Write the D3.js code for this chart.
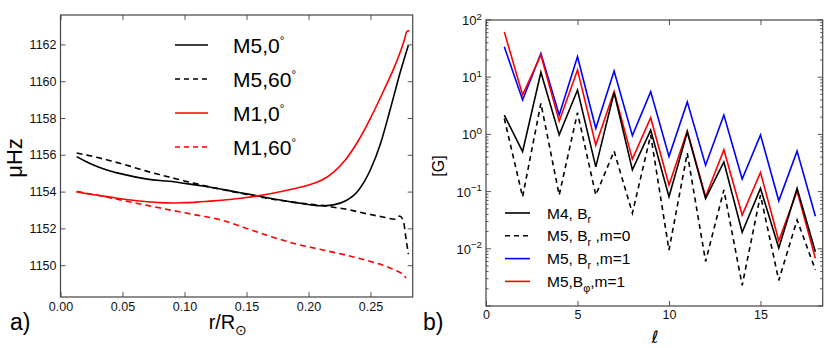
<!DOCTYPE html>
<html lang="en">
<head>
<meta charset="UTF-8">
<title>Frequency and field panels</title>
<script src="https://cdn.jsdelivr.net/npm/d3@7"></script>
<style>
  body { margin: 0; background: #fff; }
  svg { display: block; font-family: "Liberation Sans", Arial, sans-serif; }
  .tick text { font-family: "Liberation Sans", Arial, sans-serif; }
</style>
</head>
<body>
<div id="container"></div>
<script>
// ---- panel a: frequency vs r/Rsun ([r, muHz] pairs) ----
const m5_0 = [[0.013,1155.9],[0.02,1155.65],[0.03,1155.35],[0.04,1155.12],[0.05,1154.95],[0.06,1154.8],
  [0.07,1154.68],[0.08,1154.6],[0.09,1154.55],[0.10,1154.45],[0.11,1154.35],[0.12,1154.25],[0.13,1154.13],
  [0.14,1154.0],[0.15,1153.88],[0.16,1153.75],[0.17,1153.62],[0.18,1153.5],[0.19,1153.4],[0.20,1153.3],
  [0.21,1153.23],[0.22,1153.28],[0.23,1153.5],[0.24,1154.05],[0.25,1155.2],[0.258,1156.6],
  [0.266,1158.5],[0.274,1160.5],[0.2805,1161.96]];
const m5_60 = [[0.013,1156.1],[0.02,1156.0],[0.03,1155.85],[0.04,1155.68],[0.05,1155.5],[0.06,1155.3],
  [0.07,1155.1],[0.08,1154.92],[0.09,1154.75],[0.10,1154.58],[0.11,1154.42],[0.12,1154.26],[0.13,1154.12],
  [0.14,1153.98],[0.15,1153.85],[0.16,1153.72],[0.17,1153.6],[0.18,1153.5],[0.19,1153.4],[0.20,1153.32],
  [0.21,1153.25],[0.22,1153.15],[0.23,1153.05],[0.24,1152.9],[0.25,1152.75],[0.26,1152.62],[0.27,1152.5],
  [0.2735,1152.67],[0.2765,1152.4],[0.2785,1151.5],[0.2805,1150.6]];
const m1_0 = [[0.013,1154.0],[0.02,1153.9],[0.03,1153.8],[0.04,1153.7],[0.05,1153.6],[0.06,1153.52],
  [0.07,1153.45],[0.08,1153.4],[0.09,1153.38],[0.10,1153.4],[0.11,1153.43],[0.12,1153.48],[0.13,1153.53],
  [0.14,1153.6],[0.15,1153.68],[0.16,1153.78],[0.17,1153.9],[0.18,1154.03],[0.19,1154.18],[0.20,1154.36],
  [0.21,1154.6],[0.22,1155.05],[0.23,1155.75],[0.24,1156.75],[0.25,1158.0],[0.26,1159.4],
  [0.27,1160.9],[0.2775,1162.3],[0.2792,1162.7],[0.2813,1162.75]];
const m1_60 = [[0.013,1154.0],[0.03,1153.8],[0.05,1153.52],[0.07,1153.25],[0.09,1152.98],[0.11,1152.72],
  [0.13,1152.45],[0.15,1152.0],[0.17,1151.55],[0.19,1151.15],[0.21,1150.85],[0.23,1150.55],[0.25,1150.2],
  [0.26,1150.0],[0.27,1149.72],[0.275,1149.55],[0.2787,1149.3]];
const rTicks = [0, 0.05, 0.10, 0.15, 0.20, 0.25];
const freqTicks = [1150, 1152, 1154, 1156, 1158, 1160, 1162];

// ---- panel b: field strength vs degree l ----
const ell = [1,2,3,4,5,6,7,8,9,10,11,12,13,14,15,16,17,18];
const m4Br = [2.18,0.5,12.2,0.98,5.97,0.27,5.4,0.24,1.19,0.081,1.1,0.076,0.33,0.0195,0.114,0.0103,0.114,0.0089];
const m5BrM0 = [1.9,0.081,3.5,0.087,2.4,0.087,0.51,0.042,0.98,0.0095,0.47,0.006,0.107,0.0023,0.087,0.0028,0.032,0.0043];
const m5BrM1 = [34,4.0,26,2.18,22.8,1.28,12.8,0.95,5.6,0.41,3.7,0.29,2.18,0.166,0.98,0.069,0.51,0.037];
const m5BphiM1 = [62,4.9,24.4,1.7,13.4,0.65,5.6,0.37,1.96,0.13,1.15,0.081,0.54,0.039,0.217,0.0138,0.102,0.0068];
const ellTicks = [0, 5, 10, 15];
const decades = [-2, -1, 0, 1, 2];

const width = 830, height = 348;
const svg = d3.select("#container").append("svg")
    .attr("width", width).attr("height", height);

const frameColor = "#444";
const tickColor = "#555";

// label helper: parts like ["M5, B", {sub:"r"}, " ,m=0"]
function richText(sel, parts, size, supScale = 0.55) {
  let shift = 0;
  parts.forEach(p => {
    if (typeof p === "string") {
      sel.append("tspan").attr("dy", -shift).text(p);
      shift = 0;
    } else if (p.sub) {
      const d = size * 0.3;
      sel.append("tspan").attr("dy", d - shift).attr("font-size", size * 0.7).text(p.sub);
      shift = d;
    } else if (p.sup) {
      const d = -size * 0.42;
      sel.append("tspan").attr("dy", d - shift).attr("font-size", size * supScale).text(p.sup);
      shift = d;
    }
  });
}

function styleAxis(g, showText) {
  g.select(".domain").remove();
  g.selectAll(".tick line").attr("stroke", tickColor).attr("stroke-width", 1);
  g.selectAll(".tick text").attr("fill", "#111").attr("font-size", 12.5);
  if (!showText) g.selectAll(".tick text").remove();
}

// ================= panel a =================
const xA = d3.scaleLinear().domain([0, 0.284]).range([60.5, 412.7]);
const yA = d3.scaleLinear().domain([1148.27, 1163.6]).range([297, 15]);

svg.append("g").attr("transform", `translate(0,${yA.range()[0]})`)
    .call(d3.axisBottom(xA).tickValues(rTicks).tickFormat(d3.format(".2f"))
      .tickSizeInner(-5).tickSizeOuter(0).tickPadding(5))
    .call(g => styleAxis(g, true));
svg.append("g").attr("transform", `translate(0,${yA.range()[1]})`)
    .call(d3.axisTop(xA).tickValues(rTicks).tickSizeInner(-5).tickSizeOuter(0))
    .call(g => styleAxis(g, false));
svg.append("g").attr("transform", `translate(${xA.range()[0]},0)`)
    .call(d3.axisLeft(yA).tickValues(freqTicks).tickFormat(d3.format("d"))
      .tickSizeInner(-5).tickSizeOuter(0).tickPadding(4))
    .call(g => styleAxis(g, true));
svg.append("g").attr("transform", `translate(${xA.range()[1]},0)`)
    .call(d3.axisRight(yA).tickValues(freqTicks).tickSizeInner(-5).tickSizeOuter(0))
    .call(g => styleAxis(g, false));

const lineA = d3.line().x(d => xA(d[0])).y(d => yA(d[1])).curve(d3.curveMonotoneX);
const seriesA = [
  {data: m5_0, color: "#000", dash: null},
  {data: m5_60, color: "#000", dash: "6,4"},
  {data: m1_0, color: "#f00", dash: null},
  {data: m1_60, color: "#f00", dash: "6,4"}
];
svg.append("g").selectAll("path").data(seriesA).join("path")
    .attr("d", d => lineA(d.data))
    .attr("fill", "none")
    .attr("stroke", d => d.color)
    .attr("stroke-width", 1.6)
    .attr("stroke-dasharray", d => d.dash);

svg.append("rect")
    .attr("x", xA.range()[0]).attr("y", yA.range()[1])
    .attr("width", xA.range()[1] - xA.range()[0])
    .attr("height", yA.range()[0] - yA.range()[1])
    .attr("fill", "none").attr("stroke", frameColor).attr("stroke-width", 1.2);

// legend a
const legA = [
  {label: "M5,0", color: "#000", dash: null},
  {label: "M5,60", color: "#000", dash: "5,4"},
  {label: "M1,0", color: "#f00", dash: null},
  {label: "M1,60", color: "#f00", dash: "5,4"}
];
const legAG = svg.append("g").selectAll("g").data(legA).join("g")
    .attr("transform", (d, i) => `translate(175,${45 + i * 34})`);
legAG.append("line").attr("x1", 0).attr("x2", 33)
    .attr("stroke", d => d.color).attr("stroke-width", 1.6)
    .attr("stroke-dasharray", d => d.dash);
legAG.append("text").attr("x", 58).attr("y", 7.5).attr("font-size", 21).attr("fill", "#000")
    .each(function(d) { richText(d3.select(this), [d.label, {sup: "°"}], 21); });

// axis titles a
svg.append("text").attr("transform", "translate(22,158) rotate(-90)")
    .attr("text-anchor", "middle").attr("font-size", 22).text("μHz");
svg.append("text").attr("x", 228).attr("y", 329).attr("text-anchor", "middle").attr("font-size", 20)
    .call(t => richText(t, ["r/R", {sub: "⊙"}], 20));
svg.append("text").attr("x", 10).attr("y", 330).attr("font-size", 23).text("a)");

// ================= panel b =================
const xB = d3.scaleLinear().domain([0, 18.4]).range([486, 822.7]);
const yB = d3.scaleLog().domain([1e-3, 1e2]).range([306, 20]);

svg.append("g").attr("transform", `translate(0,${yB.range()[0]})`)
    .call(d3.axisBottom(xB).tickValues(ellTicks).tickFormat(d3.format("d"))
      .tickSizeInner(-5).tickSizeOuter(0).tickPadding(4))
    .call(g => styleAxis(g, true));
svg.append("g").attr("transform", `translate(0,${yB.range()[1]})`)
    .call(d3.axisTop(xB).tickValues(ellTicks).tickSizeInner(-5).tickSizeOuter(0))
    .call(g => styleAxis(g, false));

const majorB = [-3, -2, -1, 0, 1].map(k => Math.pow(10, k));
const minorB = [];
[-3, -2, -1, 0, 1].forEach(k => { for (let m = 2; m <= 9; m++) minorB.push(m * Math.pow(10, k)); });
[xB.range()[0], xB.range()[1]].forEach((x0, side) => {
  const dir = side === 0 ? 1 : -1;
  const g = svg.append("g");
  g.selectAll("line.maj").data(majorB.concat([100])).join("line").attr("class", "maj")
      .attr("x1", x0).attr("x2", x0 + dir * 5)
      .attr("y1", d => yB(d)).attr("y2", d => yB(d))
      .attr("stroke", tickColor);
  g.selectAll("line.min").data(minorB).join("line").attr("class", "min")
      .attr("x1", x0).attr("x2", x0 + dir * 2.5)
      .attr("y1", d => yB(d)).attr("y2", d => yB(d))
      .attr("stroke", tickColor);
});
svg.append("g").selectAll("text").data(decades).join("text")
    .attr("x", xB.range()[0] - 4)
    .attr("y", d => yB(Math.pow(10, d)) + 5)
    .attr("text-anchor", "end").attr("font-size", 13).attr("fill", "#111")
    .each(function(d) {
      richText(d3.select(this), ["10", {sup: d < 0 ? "−" + Math.abs(d) : String(d)}], 13, 0.75);
    });

const lineB = d3.line().x(d => xB(d[0])).y(d => yB(d[1]));
const seriesB = [
  {values: m5BrM1, color: "#00f", dash: null},
  {values: m5BphiM1, color: "#f00", dash: null},
  {values: m4Br, color: "#000", dash: null},
  {values: m5BrM0, color: "#000", dash: "5,4"}
];
svg.append("g").selectAll("path").data(seriesB).join("path")
    .attr("d", d => lineB(ell.map((l, i) => [l, d.values[i]])))
    .attr("fill", "none")
    .attr("stroke", d => d.color)
    .attr("stroke-width", 1.6)
    .attr("stroke-dasharray", d => d.dash);

svg.append("rect")
    .attr("x", xB.range()[0]).attr("y", yB.range()[1])
    .attr("width", xB.range()[1] - xB.range()[0])
    .attr("height", yB.range()[0] - yB.range()[1])
    .attr("fill", "none").attr("stroke", frameColor).attr("stroke-width", 1.2);

// legend b
const legB = [
  {parts: ["M4, B", {sub: "r"}], color: "#000", dash: null},
  {parts: ["M5, B", {sub: "r"}, " ,m=0"], color: "#000", dash: "5,4"},
  {parts: ["M5, B", {sub: "r"}, " ,m=1"], color: "#00f", dash: null},
  {parts: ["M5,B", {sub: "φ"}, ",m=1"], color: "#f00", dash: null}
];
const legBG = svg.append("g").selectAll("g").data(legB).join("g")
    .attr("transform", (d, i) => `translate(505,${213 + i * 22.8})`);
legBG.append("line").attr("x1", 0).attr("x2", 25)
    .attr("stroke", d => d.color).attr("stroke-width", 1.6)
    .attr("stroke-dasharray", d => d.dash);
legBG.append("text").attr("x", 42).attr("y", 5.5).attr("font-size", 15.5).attr("fill", "#000")
    .each(function(d) { richText(d3.select(this), d.parts, 15.5); });

// axis titles b
svg.append("text").attr("transform", "translate(444,166) rotate(-90)")
    .attr("text-anchor", "middle").attr("font-size", 16).text("[G]");
svg.append("text").attr("x", 655).attr("y", 343).attr("text-anchor", "middle")
    .attr("font-family", "DejaVu Sans").attr("font-size", 17).text("ℓ");
svg.append("text").attr("x", 423).attr("y", 330).attr("font-size", 23).text("b)");
</script>
</body>
</html>
